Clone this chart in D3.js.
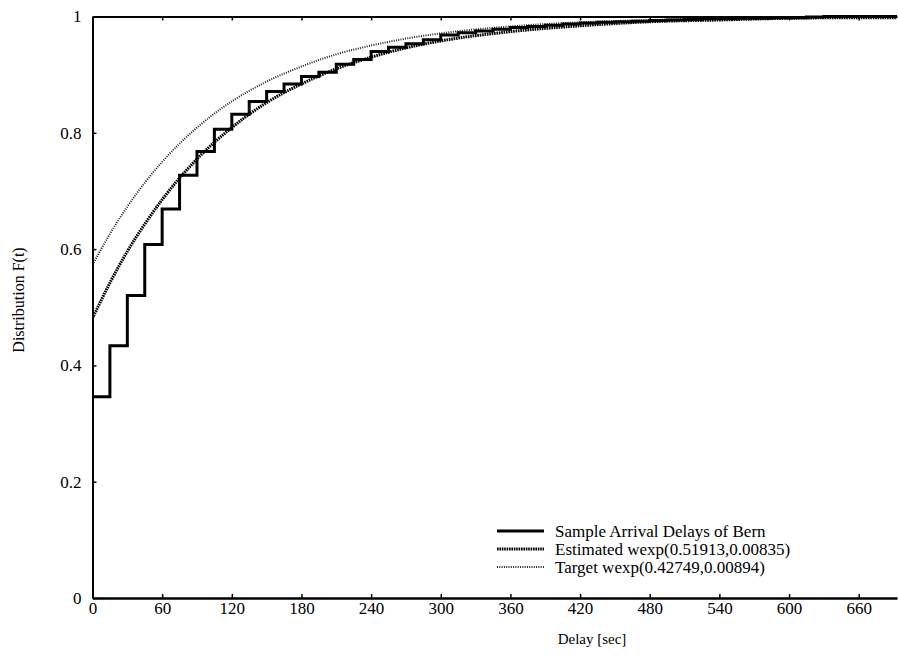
<!DOCTYPE html>
<html>
<head>
<meta charset="utf-8">
<script src="https://cdn.jsdelivr.net/npm/d3@7"></script>
<style>
  body { margin: 0; background: #fff; }
  svg { display: block; font-family: "Liberation Serif", "DejaVu Serif", serif; }
  .tick text { font-size: 17px; fill: #000; }
</style>
</head>
<body>
<svg width="898" height="660"></svg>
<script>
// sample arrival delays: ECDF level held from each step time (sec)
const stepTimes = [0, 0, 15, 30, 45, 60, 75, 90, 105, 120, 135, 150, 165, 180, 195, 210,
  225, 240, 255, 270, 285, 300, 315, 330, 345, 360, 375, 390, 405, 420, 435, 450,
  465, 480, 495, 510, 525, 540, 555, 570, 585, 600, 615, 630, 693];
const stepLevels = [0.28, 0.346, 0.434, 0.520, 0.608, 0.669, 0.727, 0.768, 0.806, 0.832,
  0.854, 0.871, 0.884, 0.897, 0.904, 0.918, 0.926, 0.940, 0.947, 0.953, 0.960, 0.968,
  0.972, 0.975, 0.978, 0.981, 0.983, 0.985, 0.987, 0.989, 0.990, 0.991, 0.992, 0.993,
  0.994, 0.995, 0.996, 0.996, 0.997, 0.997, 0.998, 0.998, 0.999, 1.0, 1.0];

// fitted curves
const curveTimes = [0, 15, 30, 45, 60, 90, 120, 150, 180, 210, 240, 270, 300, 360, 420, 480, 540, 600, 660, 693];
const estimatedF = [0.481, 0.542, 0.596, 0.643, 0.685, 0.755, 0.809, 0.852, 0.884, 0.910,
  0.930, 0.946, 0.958, 0.974, 0.984, 0.991, 0.994, 0.997, 0.998, 0.998];
const targetF = [0.573, 0.626, 0.673, 0.714, 0.750, 0.809, 0.854, 0.888, 0.914, 0.935,
  0.950, 0.962, 0.971, 0.983, 0.990, 0.994, 0.997, 0.998, 0.999, 0.999];

const xTicks = [0, 60, 120, 180, 240, 300, 360, 420, 480, 540, 600, 660];
const yTicks = [0, 0.2, 0.4, 0.6, 0.8, 1];

const legendLabels = [
  'Sample Arrival Delays of Bern',
  'Estimated wexp(0.51913,0.00835)',
  'Target wexp(0.42749,0.00894)'
];

const svg = d3.select('svg');

const x = d3.scaleLinear().domain([0, 693]).range([92.5, 897]);
const y = d3.scaleLinear().domain([0, 1]).range([598, 16.5]);

svg.append('clipPath').attr('id', 'plot')
  .append('rect')
  .attr('x', x(0)).attr('y', y(1) - 4)
  .attr('width', x(693) - x(0)).attr('height', y(0) - y(1) + 4);

// axes
const bottomAxis = svg.append('g')
  .attr('transform', `translate(0,${y(0)})`)
  .call(d3.axisBottom(x).tickValues(xTicks).tickSize(-4).tickSizeOuter(0).tickPadding(4)
    .tickFormat(d => String(d)));
const topAxis = svg.append('g')
  .attr('transform', `translate(0,${y(1)})`)
  .call(d3.axisTop(x).tickValues(xTicks).tickSize(-4).tickSizeOuter(0).tickFormat(''));
const leftAxis = svg.append('g')
  .attr('transform', `translate(${x(0)},0)`)
  .call(d3.axisLeft(y).tickValues(yTicks).tickSize(-4).tickSizeOuter(0).tickPadding(11)
    .tickFormat(d => String(d)));

[bottomAxis, topAxis, leftAxis].forEach(g => g.attr('font-family', null).attr('font-size', null));
svg.selectAll('.tick text').attr('font-family', '"Liberation Serif", serif');
bottomAxis.select('.domain').attr('stroke-width', 2.5);
topAxis.select('.domain').attr('stroke-width', 2);
leftAxis.select('.domain').attr('stroke-width', 2);
svg.selectAll('.tick line').attr('stroke-width', 1.5);

// axis titles
svg.append('text')
  .attr('x', 592).attr('y', 644)
  .attr('text-anchor', 'middle')
  .attr('font-size', 15)
  .text('Delay [sec]');

svg.append('text')
  .attr('transform', 'translate(24,300) rotate(-90)')
  .attr('text-anchor', 'middle')
  .attr('font-size', 16)
  .text('Distribution F(t)');

const plot = svg.append('g').attr('clip-path', 'url(#plot)');

const curveLine = d3.line()
  .curve(d3.curveMonotoneX)
  .x((d, i) => x(curveTimes[i]))
  .y(d => y(d));

// target curve (fine dots)
plot.append('path')
  .attr('d', curveLine(targetF))
  .attr('fill', 'none')
  .attr('stroke', '#222')
  .attr('stroke-width', 2)
  .attr('stroke-dasharray', '1,1.3');

// estimated curve (dense dots)
plot.append('path')
  .attr('d', curveLine(estimatedF))
  .attr('fill', 'none')
  .attr('stroke', '#000')
  .attr('stroke-width', 3)
  .attr('stroke-dasharray', '1.6,0.8');

// step function
const stepLine = d3.line()
  .curve(d3.curveStepAfter)
  .x((d, i) => x(stepTimes[i]))
  .y(d => y(d));

plot.append('path')
  .attr('d', stepLine(stepLevels))
  .attr('fill', 'none')
  .attr('stroke', '#000')
  .attr('stroke-width', 3);

// legend
const legendStyles = [
  { width: 3, dash: null, color: '#000' },
  { width: 3, dash: '1.6,0.8', color: '#000' },
  { width: 2, dash: '1,1.3', color: '#222' }
];

const legend = svg.append('g');
legendLabels.forEach((label, i) => {
  const ly = 531 + i * 18;
  const s = legendStyles[i];
  legend.append('line')
    .attr('x1', 497).attr('x2', 544)
    .attr('y1', ly).attr('y2', ly)
    .attr('stroke', s.color)
    .attr('stroke-width', s.width)
    .attr('stroke-dasharray', s.dash);
  legend.append('text')
    .attr('x', 555).attr('y', ly + 5.5)
    .attr('font-size', 17)
    .text(label);
});
</script>
</body>
</html>
